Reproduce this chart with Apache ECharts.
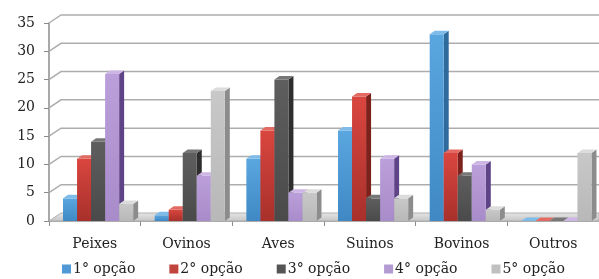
<!DOCTYPE html>
<html>
<head>
<meta charset="utf-8">
<script src="https://cdn.jsdelivr.net/npm/echarts@6/dist/echarts.min.js"></script>
<style>
  html, body { margin: 0; padding: 0; background: #fff; }
  #chart { width: 599px; height: 279px; }
</style>
</head>
<body>
<div id="chart"></div>
<script>
var categories = ['Peixes', 'Ovinos', 'Aves', 'Suinos', 'Bovinos', 'Outros'];
var seriesNames = ['1° opção', '2° opção', '3° opção', '4° opção', '5° opção'];
var opcao1 = [4, 1, 11, 16, 33, 0];
var opcao2 = [11, 2, 16, 22, 12, 0];
var opcao3 = [14, 12, 25, 4, 8, 0];
var opcao4 = [26, 8, 5, 11, 10, 0];
var opcao5 = [3, 23, 5, 4, 2, 12];
var yTicks = [0, 5, 10, 15, 20, 25, 30, 35];

var allValues = [opcao1, opcao2, opcao3, opcao4, opcao5];
// front, side, top colours for each option
var palette = [
    { front: ['#5aa6df', '#3f88c4'], side: '#2f6a9c', top: '#7fbbe8', legend: '#4f9ad6' },
    { front: ['#d9463f', '#a8302b'], side: '#7d211d', top: '#e26a63', legend: '#c0433c' },
    { front: ['#5e5e5e', '#4a4a4a'], side: '#2e2e2e', top: '#777777', legend: '#555555' },
    { front: ['#bb9fda', '#a88bc9'], side: '#5f4387', top: '#cdb6e6', legend: '#b39ad2' },
    { front: ['#c8c8c8', '#b8b8b8'], side: '#8c8c8c', top: '#dcdcdc', legend: '#c0c0c0' }
];

var DX = 5, DY = 3.5;       // bar depth
var WX = 12, WY = 8;        // wall depth
var FONT = 'DejaVu Serif';

var chart = echarts.init(document.getElementById('chart'));

function barRenderer(idx) {
    return function (params, api) {
        var c = api.value(0), v = api.value(1);
        var base = api.coord([c, 0]);
        var top = api.coord([c, v]);
        var bw = api.size([1, 0])[0];
        var w = bw * 0.153;
        var x = base[0] - bw / 2 + bw * 0.153 + idx * w;
        var p = palette[idx];
        return {
            type: 'group',
            children: [
                {
                    type: 'polygon',
                    shape: { points: [[x + w, top[1]], [x + w + DX, top[1] - DY], [x + w + DX, base[1] - DY], [x + w, base[1]]] },
                    style: { fill: p.side }
                },
                {
                    type: 'rect',
                    shape: { x: x, y: top[1], width: w, height: base[1] - top[1] },
                    style: {
                        fill: new echarts.graphic.LinearGradient(0, 0, 0, 1, [
                            { offset: 0, color: p.front[0] }, { offset: 1, color: p.front[1] }
                        ])
                    }
                },
                {
                    type: 'polygon',
                    shape: { points: [[x, top[1]], [x + DX, top[1] - DY], [x + w + DX, top[1] - DY], [x + w, top[1]]] },
                    style: { fill: p.top }
                }
            ]
        };
    };
}

var series = [];

// back wall, side wall and floor
series.push({
    type: 'custom',
    name: 'wall',
    silent: true,
    z: 1,
    data: yTicks.map(function (t) { return [0, t]; }),
    renderItem: function (params, api) {
        var cs = params.coordSys;
        var y = api.coord([0, api.value(1)])[1];
        var x0 = cs.x, x1 = cs.x + cs.width;
        var children = [];
        if (api.value(1) === 0) {
            children.push({
                type: 'polygon',
                shape: { points: [[x0, y], [x0 + WX, y - WY], [x1, y - WY], [x1, y]] },
                style: {
                    fill: new echarts.graphic.LinearGradient(0, 0, 0, 1, [
                        { offset: 0, color: '#e6e6e6' }, { offset: 1, color: '#c4c4c4' }
                    ]),
                    stroke: '#b0b0b0', lineWidth: 1
                }
            });
        } else {
            children.push({
                type: 'polyline',
                shape: { points: [[x0, y], [x0 + WX, y - WY], [x1, y - WY]] },
                style: { stroke: '#adadad', lineWidth: 1.5, fill: null }
            });
        }
        return { type: 'group', children: children };
    }
});

seriesNames.forEach(function (name, i) {
    series.push({
        type: 'custom',
        name: name,
        z: 3,
        itemStyle: { color: palette[i].legend },
        data: allValues[i].map(function (v, c) { return [c, v]; }),
        renderItem: barRenderer(i)
    });
});

chart.setOption({
    animation: false,
    textStyle: { fontFamily: FONT },
    grid: { left: 49, right: 0, top: 23, bottom: 58 },
    legend: {
        data: seriesNames,
        top: 257,
        left: 57,
        icon: 'rect',
        itemWidth: 9,
        itemHeight: 9,
        itemGap: 34,
        textStyle: { fontFamily: FONT, fontSize: 14, color: '#222', padding: [0, 0, 0, -3] }
    },
    xAxis: {
        type: 'category',
        data: categories,
        axisLine: { lineStyle: { color: '#8c8c8c', width: 1.5 } },
        axisTick: { show: true, length: 5, lineStyle: { color: '#8c8c8c' } },
        axisLabel: { fontFamily: FONT, fontSize: 14, color: '#222', margin: 16 }
    },
    yAxis: {
        type: 'value',
        min: 0,
        max: 35,
        interval: 5,
        axisLine: { show: true, lineStyle: { color: '#8c8c8c', width: 1.5 } },
        axisTick: { show: true, length: 5, lineStyle: { color: '#8c8c8c' } },
        splitLine: { show: false },
        axisLabel: { fontFamily: FONT, fontSize: 14, color: '#222', margin: 14 }
    },
    series: series
});
</script>
</body>
</html>
